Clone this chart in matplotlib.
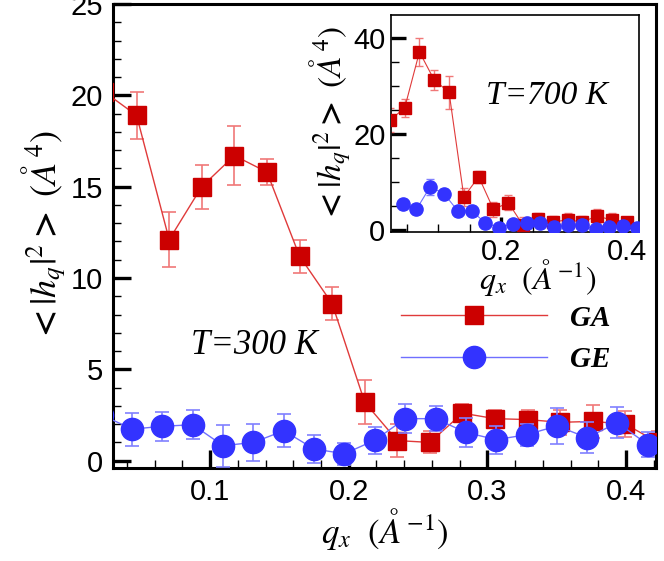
import matplotlib.pyplot as plt
from matplotlib.ticker import MultipleLocator

plt.rcParams['font.family'] = 'Liberation Sans'
plt.rcParams['mathtext.fontset'] = 'stix'

# main panel, T = 300 K
q_ga = [0.0235, 0.047, 0.0705, 0.094, 0.1175, 0.141, 0.1645, 0.188, 0.2115,
        0.235, 0.2585, 0.282, 0.3055, 0.329, 0.3525, 0.376, 0.3995, 0.423]
h_ga = [20.2, 18.9, 12.1, 15.0, 16.7, 15.8, 11.2, 8.6, 3.2,
        1.1, 1.0, 2.6, 2.3, 2.25, 2.1, 2.15, 2.0, 1.0]
e_ga = [1.0, 1.3, 1.5, 1.2, 1.6, 0.7, 0.9, 0.9, 1.2,
        0.9, 0.6, 0.5, 0.5, 0.55, 0.7, 0.9, 0.7, 0.6]

q_ge = [0.0219, 0.0438, 0.0656, 0.0875, 0.1094, 0.1313, 0.1532, 0.175, 0.1969, 0.2188,
        0.2407, 0.2626, 0.2844, 0.3063, 0.3282, 0.3501, 0.372, 0.3938, 0.4157]
h_ge = [2.5, 1.73, 1.88, 1.97, 0.82, 1.0, 1.64, 0.64, 0.38, 1.12,
        2.3, 2.3, 1.55, 1.15, 1.42, 1.9, 1.26, 2.08, 0.88]
e_ge = [0.8, 0.9, 0.8, 0.8, 1.15, 1.0, 0.9, 0.75, 0.6, 0.75,
        0.78, 0.7, 0.78, 0.77, 0.6, 1.0, 0.86, 0.85, 0.67]

# inset, T = 700 K
qi_ga = q_ga[:17]
hi_ga = [22.9, 25.4, 37.1, 31.25, 28.7, 6.9, 11.1, 4.3, 5.7,
         1.0, 2.4, 1.7, 2.1, 1.7, 2.9, 2.1, 1.7]
ei_ga = [2.5, 1.9, 3.0, 2.1, 3.4, 1.8, 1.2, 1.5, 1.6,
         1.8, 1.2, 1.3, 1.5, 1.3, 1.5, 1.4, 1.1]
qi_ge = q_ge[1:]
hi_ge = [5.4, 4.3, 9.0, 7.6, 4.0, 4.0, 1.5, 0.5, 1.25,
         1.5, 1.5, 0.7, 1.0, 1.0, 0.15, 0.7, 0.9, 0.35]
ei_ge = [1.0, 1.0, 1.6, 1.0, 1.0, 1.0, 1.0, 1.0, 1.0,
         1.0, 1.0, 1.0, 1.0, 1.0, 1.0, 1.0, 1.0, 1.0]

red, red_l, red_e = '#cc0000', '#e03a3a', '#f07878'
blue, blue_l, blue_e = '#3333ff', '#6f6fff', '#8080ff'
serif_it = dict(family='Liberation Serif', style='italic')
xlab = r'$q_x\ \ (Å^{-1})$'
ylab = r'$\mathbf{<}|h_q|^2\mathbf{>}\ (Å^4)$'

fig = plt.figure(figsize=(6.64, 5.61), dpi=100)
ax = fig.add_axes([0.1702, 0.1658, 0.8178, 0.8271])

ax.errorbar(q_ga, h_ga, yerr=e_ga, fmt='none', ecolor=red_e, elinewidth=1.2, capsize=4.7, capthick=1.2, zorder=2)
ax.plot(q_ga, h_ga, '-s', color=red_l, lw=1, mfc=red, mec=red, ms=12.5, label='GA', zorder=3)
ax.errorbar(q_ge, h_ge, yerr=e_ge, fmt='none', ecolor=blue_e, elinewidth=1.2, capsize=4.7, capthick=1.2, zorder=4)
ax.plot(q_ge, h_ge, '-o', color=blue_l, lw=1, mfc=blue, mec=blue, ms=16, label='GE', zorder=5)

ax.set_xlim(0.030, 0.4216)
ax.set_ylim(-0.4, 25)
ax.xaxis.set_major_locator(MultipleLocator(0.1))
ax.xaxis.set_minor_locator(MultipleLocator(0.02))
ax.yaxis.set_major_locator(MultipleLocator(5))
ax.yaxis.set_minor_locator(MultipleLocator(1))
ax.tick_params(which='both', direction='in', top=False, right=False, labelsize=21)
ax.tick_params(which='major', length=13, width=2.4, pad=7)
ax.tick_params(which='minor', length=6, width=1)
for s in ax.spines.values():
    s.set_linewidth(2.2)

ax.set_xlabel(xlab, fontsize=25, labelpad=0)
ax.set_ylabel(ylab, fontsize=26, labelpad=2)
ax.text(0.26, 0.265, 'T=300 K', transform=ax.transAxes, fontsize=25, ha='center', va='center', **serif_it)

fig.legend(loc='upper left', bbox_to_anchor=(0.604, 0.457), frameon=False, borderpad=0, borderaxespad=0,
           handlelength=5.0, handletextpad=0.8, labelspacing=0.5,
           prop=dict(family='Liberation Serif', style='italic', weight='bold', size=21))

# inset
ins = fig.add_axes([0.5889, 0.5865, 0.3735, 0.3868])
ins.errorbar(qi_ga, hi_ga, yerr=ei_ga, fmt='none', ecolor=red_e, elinewidth=1, capsize=3, capthick=1, zorder=2)
ins.plot(qi_ga, hi_ga, '-s', color=red_l, lw=0.8, mfc=red, mec=red, ms=8, zorder=3)
ins.errorbar(qi_ge, hi_ge, yerr=ei_ge, fmt='none', ecolor=blue_e, elinewidth=1, capsize=3, capthick=1, zorder=4)
ins.plot(qi_ge, hi_ge, '-o', color=blue_l, lw=0.8, mfc=blue, mec=blue, ms=9.5, zorder=5)
ins.set_xlim(0.0254, 0.419)
ins.set_ylim(-0.4, 44.8)
ins.xaxis.set_major_locator(MultipleLocator(0.2))
ins.xaxis.set_minor_locator(MultipleLocator(0.05))
ins.yaxis.set_major_locator(MultipleLocator(20))
ins.yaxis.set_minor_locator(MultipleLocator(5))
ins.tick_params(which='both', direction='in', top=False, right=False, labelsize=21)
ins.tick_params(which='major', length=11, width=2.4, pad=4)
ins.tick_params(which='minor', length=6, width=1)
for s in ins.spines.values():
    s.set_linewidth(1.2)
ins.set_xlabel(xlab, fontsize=23)
ins.xaxis.set_label_coords(0.59, -0.115)
ins.set_ylabel(ylab, fontsize=24, labelpad=0)
ins.text(0.63, 0.63, 'T=700 K', transform=ins.transAxes, fontsize=24, ha='center', va='center', **serif_it)

fig.savefig('out.png', dpi=100)
